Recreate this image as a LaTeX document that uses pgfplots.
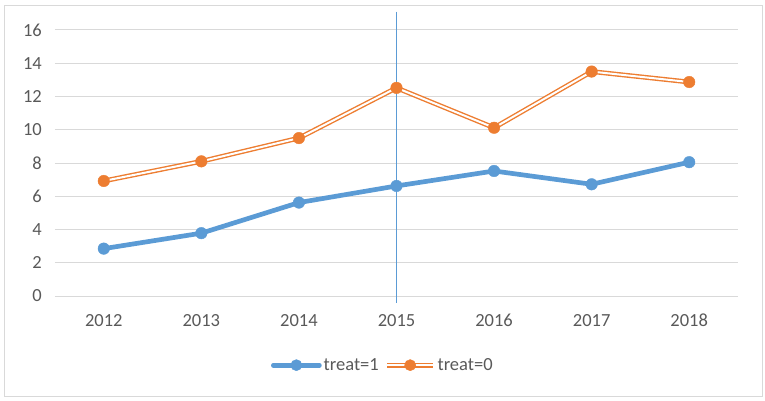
\documentclass[border=0pt]{standalone}
\usepackage{pgfplots}
\pgfplotsset{compat=1.18}
\usepackage{pgfplotstable}
\usepackage{fontspec}
\setmainfont{Carlito}
\definecolor{xblue}{HTML}{5B9BD5}
\definecolor{xorange}{HTML}{ED7D31}
\definecolor{xgrid}{HTML}{D9D9D9}
\definecolor{xtext}{HTML}{595959}
\pgfplotstableread{
x y
0 2.85
1 3.78
2 5.62
3 6.62
4 7.52
5 6.72
6 8.05
}\treatone
\pgfplotstableread{
x y
0 6.92
1 8.10
2 9.50
3 12.52
4 10.12
5 13.50
6 12.87
}\treatzero
\newcommand{\xfont}{\fontsize{18.5bp}{22bp}\selectfont}
\begin{document}
\begin{tikzpicture}[x=1bp,y=1bp]
\useasboundingbox (-55,-104) rectangle (710,296);
\draw[xgrid, line width=1bp] (-50,-100) rectangle (707,291);
\begin{axis}[
  at={(0,0)}, anchor=south west,
  scale only axis, width=683bp, height=266bp,
  xmin=-0.5, xmax=6.5, ymin=0, ymax=16,
  clip=false,
  xtick={0,1,2,3,4,5,6},
  xticklabels={2012,2013,2014,2015,2016,2017,2018},
  ytick={0,2,4,6,8,10,12,14,16},
  /pgf/number format/assume math mode=true,
  axis line style={draw=none},
  major tick length=0pt,
  ymajorgrids,
  grid style={xgrid, line width=1bp},
  yticklabel style={font=\xfont, text=xtext, inner sep=0pt, anchor=east, xshift=-13bp},
  xticklabel style={font=\xfont, text=xtext, inner sep=0pt, anchor=north, yshift=-18bp},
  legend style={draw=none, fill=none, font=\xfont, text=xtext, at={(0.48,-0.26)}, anchor=center,
    /tikz/every even column/.append style={column sep=4bp}},
  legend columns=2,
  legend cell align=left,
]
\addlegendimage{legend image code/.code={\draw[xblue, line width=4.7bp, line cap=round] (0bp,0bp) -- (46bp,0bp); \fill[xblue] (23bp,0bp) circle (5.6bp);}}
\addlegendentry{treat=1}
\addlegendimage{legend image code/.code={\draw[xorange, line width=1.4bp, double=white, double distance=2bp] (0bp,0bp) -- (46bp,0bp); \fill[xorange] (23bp,0bp) circle (5.6bp);}}
\addlegendentry{treat=0}
\addplot[xblue, line width=4.7bp, line join=round, line cap=round, forget plot] table {\treatone};
\addplot[xblue, only marks, mark=*, mark size=5.8bp, mark options={fill=xblue, draw=none}, forget plot] table {\treatone};
\addplot[xorange, line width=1.4bp, line join=round, double=white, double distance=2bp, forget plot] table {\treatzero};
\addplot[xorange, only marks, mark=*, mark size=5.8bp, mark options={fill=xorange, draw=none}, forget plot] table {\treatzero};
\addplot[xblue, line width=1.2bp, forget plot] coordinates {(3,17.1) (3,-0.4)};
\end{axis}
\end{tikzpicture}
\end{document}
